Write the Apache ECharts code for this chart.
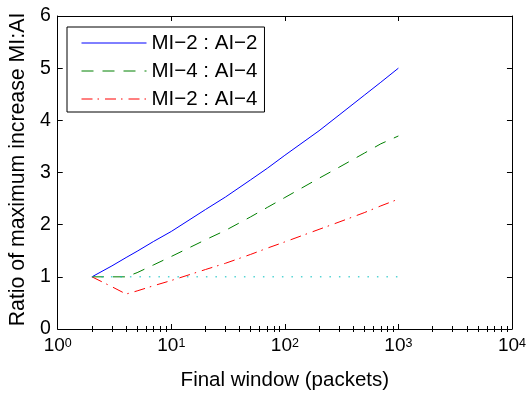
<!DOCTYPE html>
<html><head><meta charset="utf-8">
<script src="https://cdn.jsdelivr.net/npm/echarts@6/dist/echarts.min.js"></script>
<style>html,body{margin:0;padding:0;background:#fff}#c{width:529px;height:396px}</style>
</head><body><div id="c"></div>
<script>
// ---- data ----
const xValues = [2, 3, 4, 5, 7, 10, 20, 30, 50, 70, 100, 200, 300, 500, 700, 1000];
const mi2ai2 = [1.00, 1.21, 1.37, 1.49, 1.68, 1.87, 2.29, 2.53, 2.86, 3.08, 3.33, 3.80, 4.10, 4.48, 4.73, 5.00];
const mi4ai4 = [1.00, 1.00, 1.00, 1.08, 1.23, 1.39, 1.71, 1.89, 2.15, 2.33, 2.52, 2.89, 3.10, 3.37, 3.55, 3.70];
const mi2ai4 = [1.00, 0.81, 0.67, 0.73, 0.83, 0.93, 1.14, 1.26, 1.43, 1.55, 1.67, 1.91, 2.05, 2.23, 2.36, 2.49];
const baselineX = [2, 1000];
const baselineY = [1, 1];
const seriesNames = ['MI\u22122 : AI\u22122', 'MI\u22124 : AI\u22124', 'MI\u22122 : AI\u22124'];
const xTickExponents = ['0', '1', '2', '3', '4'];
const yTicks = ['0', '1', '2', '3', '4', '5', '6'];
const minorMultipliers = [2, 3, 4, 5, 6, 7, 8, 9];

const FONT = 'Liberation Sans, Arial, Helvetica, sans-serif';
function pairs(xs, ys) { return xs.map((x, i) => [x, ys[i]]); }

// minor tick positions (axis decoration) in decade units on an overlay value axis
const minorPos = [];
for (let d = 0; d < 4; d++) minorMultipliers.forEach(k => minorPos.push(d + Math.log10(k)));

const chart = echarts.init(document.getElementById('c'), null, {renderer: 'canvas'});
const axisLineStyle = {show: true, onZero: false, lineStyle: {color: '#000', width: 1}};
const majorTick = {show: true, inside: true, length: 5, lineStyle: {color: '#000', width: 1}};
const minorTickCfg = {show: true, inside: true, length: 3, customValues: minorPos, lineStyle: {color: '#000', width: 1}};

chart.setOption({
  animation: false,
  backgroundColor: '#fff',
  grid: {left: 57, right: 16, top: 16, bottom: 59, containLabel: false},
  legend: {
    data: seriesNames,
    orient: 'vertical', left: 67, top: 27,
    padding: [5.5, 7, 2.5, 14], itemGap: 7, itemWidth: 65, itemHeight: 14,
    backgroundColor: '#fff', borderColor: '#000', borderWidth: 1, borderRadius: 0,
    itemStyle: {opacity: 0, color: 'transparent', borderWidth: 0},
    lineStyle: {width: 1},
    textStyle: {fontSize: 20.5, fontFamily: FONT, color: '#000', lineHeight: 20},
    selectedMode: false
  },
  xAxis: [
    {type: 'log', logBase: 10, min: 1, max: 10000, position: 'bottom',
     axisLine: axisLineStyle, axisTick: majorTick, splitLine: {show: false},
     axisLabel: {margin: 8, color: '#000', fontFamily: FONT,
       formatter: v => '{b|10}{s|' + xTickExponents[Math.round(Math.log10(v))] + '}',
       rich: {b: {fontSize: 19, lineHeight: 18, verticalAlign: 'bottom', fontFamily: FONT, color: '#000'},
              s: {fontSize: 12.5, lineHeight: 12, verticalAlign: 'top', padding: [0, 0, 14, 0], fontFamily: FONT, color: '#000'}}},
     name: 'Final window (packets)', nameLocation: 'middle', nameGap: 41,
     nameTextStyle: {fontSize: 20.5, fontFamily: FONT, color: '#000'}},
    {type: 'log', logBase: 10, min: 1, max: 10000, position: 'top',
     axisLine: axisLineStyle, axisTick: majorTick, splitLine: {show: false}, axisLabel: {show: false}},
    {type: 'value', min: 0, max: 4, position: 'bottom', axisLine: {show: false},
     axisTick: minorTickCfg, splitLine: {show: false}, axisLabel: {show: false}},
    {type: 'value', min: 0, max: 4, position: 'top', axisLine: {show: false},
     axisTick: minorTickCfg, splitLine: {show: false}, axisLabel: {show: false}}
  ],
  yAxis: [
    {type: 'value', min: 0, max: 6, interval: 1, position: 'left',
     axisLine: axisLineStyle, axisTick: majorTick, splitLine: {show: false},
     axisLabel: {margin: 7, fontSize: 19.5, fontFamily: FONT, color: '#000', formatter: v => yTicks[v]},
     name: 'Ratio of maximum increase MI:AI', nameLocation: 'middle', nameGap: 24,
     nameTextStyle: {fontSize: 21.3, fontFamily: FONT, color: '#000', padding: [0, 0, 0, 6]}},
    {type: 'value', min: 0, max: 6, interval: 1, position: 'right',
     axisLine: axisLineStyle, axisTick: majorTick, splitLine: {show: false}, axisLabel: {show: false}}
  ],
  series: [
    {name: seriesNames[0], type: 'line', data: pairs(xValues, mi2ai2), symbol: 'none',
     lineStyle: {color: '#0000ff', width: 1, type: 'solid'}, itemStyle: {color: '#0000ff'}},
    {name: seriesNames[1], type: 'line', data: pairs(xValues, mi4ai4), symbol: 'none',
     lineStyle: {color: '#008000', width: 1, type: [12, 9]}, itemStyle: {color: '#008000'}},
    {name: seriesNames[2], type: 'line', data: pairs(xValues, mi2ai4), symbol: 'none',
     lineStyle: {color: '#ff0000', width: 1, type: [11, 5, 1.5, 6]}, itemStyle: {color: '#ff0000'}},
    {name: 'baseline', type: 'line', data: pairs(baselineX, baselineY), symbol: 'none',
     lineStyle: {color: '#00bfbf', width: 1, type: [1.5, 8]}, itemStyle: {color: '#00bfbf'}}
  ]
});
</script>
</body></html>
